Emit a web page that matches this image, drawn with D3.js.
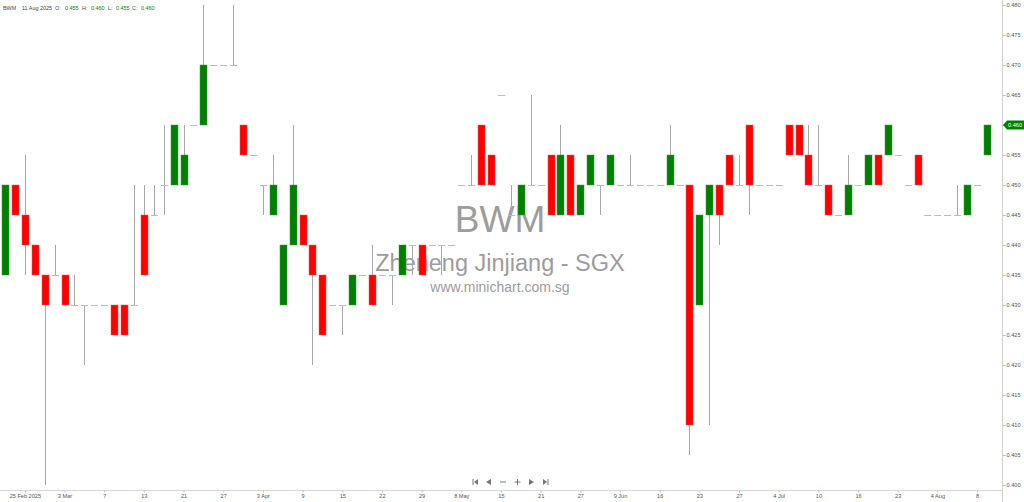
<!DOCTYPE html>
<html>
<head>
<meta charset="utf-8">
<script src="https://cdn.jsdelivr.net/npm/d3@7"></script>
<style>
  html, body { margin: 0; padding: 0; background: #fff; }
  svg { display: block; font-family: "Liberation Sans", Arial, sans-serif; }
</style>
</head>
<body>
<div class="chart"></div>
<script>
'use strict';

/* Daily OHLC, BWM (Zheneng Jinjiang), 21 Feb - 11 Aug 2025 */
var opens  = [0.435,0.450,0.445,0.440,0.435,0.435,0.435,0.430,0.430,0.430,
              0.430,0.430,0.430,0.430,0.445,0.445,0.450,0.450,0.450,0.460,
              0.460,0.470,0.470,0.470,0.460,0.455,0.450,0.445,0.430,0.440,
              0.445,0.440,0.435,0.430,0.430,0.430,0.435,0.435,0.435,0.435,
              0.435,0.440,0.440,0.440,0.440,0.440,0.450,0.450,0.460,0.455,
              0.465,0.445,0.445,0.450,0.450,0.455,0.445,0.455,0.445,0.450,
              0.450,0.450,0.450,0.450,0.450,0.450,0.450,0.450,0.450,0.450,
              0.430,0.445,0.450,0.455,0.450,0.460,0.450,0.450,0.450,0.460,
              0.460,0.455,0.450,0.450,0.445,0.445,0.450,0.450,0.455,0.455,
              0.455,0.450,0.455,0.445,0.445,0.445,0.445,0.445,0.450,0.455];
var highs  = [0.450,0.450,0.455,0.440,0.435,0.440,0.435,0.435,0.430,0.430,
              0.430,0.430,0.430,0.450,0.450,0.450,0.460,0.460,0.460,0.460,
              0.480,0.470,0.470,0.480,0.460,0.455,0.450,0.455,0.440,0.460,
              0.445,0.440,0.435,0.430,0.430,0.435,0.435,0.440,0.435,0.435,
              0.440,0.440,0.440,0.440,0.440,0.440,0.450,0.455,0.460,0.455,
              0.465,0.450,0.450,0.465,0.450,0.455,0.460,0.455,0.450,0.455,
              0.450,0.455,0.450,0.455,0.450,0.450,0.450,0.460,0.450,0.450,
              0.445,0.450,0.450,0.455,0.455,0.460,0.450,0.450,0.450,0.460,
              0.460,0.460,0.460,0.450,0.445,0.455,0.450,0.455,0.455,0.460,
              0.455,0.450,0.455,0.445,0.445,0.445,0.450,0.450,0.450,0.460];
var lows   = [0.435,0.445,0.435,0.435,0.400,0.435,0.430,0.430,0.420,0.430,
              0.430,0.425,0.425,0.430,0.435,0.445,0.445,0.450,0.450,0.460,
              0.460,0.470,0.470,0.470,0.455,0.455,0.445,0.445,0.430,0.440,
              0.440,0.420,0.425,0.430,0.425,0.430,0.435,0.430,0.435,0.430,
              0.435,0.435,0.435,0.440,0.435,0.440,0.450,0.450,0.450,0.450,
              0.465,0.445,0.445,0.450,0.450,0.445,0.445,0.445,0.445,0.450,
              0.445,0.450,0.450,0.450,0.450,0.450,0.450,0.450,0.450,0.405,
              0.430,0.410,0.440,0.450,0.450,0.445,0.450,0.450,0.450,0.455,
              0.455,0.450,0.450,0.445,0.445,0.445,0.450,0.450,0.450,0.455,
              0.455,0.450,0.450,0.445,0.445,0.445,0.445,0.445,0.450,0.455];
var closes = [0.450,0.445,0.440,0.435,0.430,0.435,0.430,0.430,0.430,0.430,
              0.430,0.425,0.425,0.430,0.435,0.445,0.450,0.460,0.455,0.460,
              0.470,0.470,0.470,0.470,0.455,0.455,0.450,0.450,0.440,0.450,
              0.440,0.435,0.425,0.430,0.430,0.435,0.435,0.430,0.435,0.435,
              0.440,0.440,0.435,0.440,0.440,0.440,0.450,0.450,0.450,0.450,
              0.465,0.445,0.450,0.450,0.450,0.445,0.455,0.445,0.450,0.455,
              0.450,0.455,0.450,0.450,0.450,0.450,0.450,0.455,0.450,0.410,
              0.445,0.450,0.445,0.450,0.450,0.450,0.450,0.450,0.450,0.455,
              0.455,0.450,0.450,0.445,0.445,0.450,0.450,0.455,0.450,0.460,
              0.455,0.450,0.450,0.445,0.445,0.445,0.445,0.450,0.450,0.460];

// one date label every 4 bars, first one on bar 2
var tickLabels = ['25 Feb 2025','3 Mar','7','13','21','27','3 Apr','9','15','22',
                  '29','8 May','15','21','27','9 Jun','16','23','27','4 Jul',
                  '10','16','23','4 Aug','8'];
var priceTicks = [0.400,0.405,0.410,0.415,0.420,0.425,0.430,0.435,0.440,
                  0.445,0.450,0.455,0.460,0.465,0.470,0.475,0.480];

var width  = 1024,
    height = 502;
var green = '#008000',
    red   = '#ff0000';
var axisFont = '5.6px';

var bars = opens.map(function(o, i) {
  return { i: i, o: o, h: highs[i], l: lows[i], c: closes[i] };
});

var x = d3.scaleLinear().domain([0, bars.length - 1]).range([5, 987]);
var y = d3.scaleLinear().domain([0.400, 0.480]).range([485, 5]);
var bodyW = 7;

var svg = d3.select('.chart')
  .append('svg')
  .attr('width', width)
  .attr('height', height);

// Watermark (under the candles)
var wm = svg.append('g')
  .attr('fill', '#9c9c9c')
  .attr('text-anchor', 'middle');
wm.append('text').attr('x', 500).attr('y', 232)
  .style('font-size', '37px').text('BWM');
wm.append('text').attr('x', 500).attr('y', 271)
  .style('font-size', '23.5px').text('Zheneng Jinjiang - SGX');
wm.append('text').attr('x', 500).attr('y', 292)
  .style('font-size', '14px').text('www.minichart.com.sg');

// Candles
var candle = svg.append('g').selectAll('g')
  .data(bars).enter()
  .append('g')
    .attr('transform', function(d) {
      return 'translate(' + Math.round(x(d.i)) + ',0)';
    });

candle.filter(function(d) { return d.h > d.l; })
  .append('line')
    .attr('x1', 0.5).attr('x2', 0.5)
    .attr('y1', function(d) { return y(d.h); })
    .attr('y2', function(d) { return y(d.l); })
    .style('stroke', '#a8a8a8')
    .style('stroke-width', 1);

candle.filter(function(d) { return d.o !== d.c; })
  .append('rect')
    .attr('x', -3)
    .attr('width', bodyW)
    .attr('y', function(d) { return y(Math.max(d.o, d.c)); })
    .attr('height', function(d) { return Math.abs(y(d.o) - y(d.c)); })
    .style('fill', function(d) { return d.c > d.o ? green : red; })
    .style('stroke', function(d) { return d.c > d.o ? '#3a9a3a' : '#ff5050'; })
    .style('stroke-width', 0.5);

candle.filter(function(d) { return d.o === d.c; })
  .append('line')
    .attr('x1', -3).attr('x2', 4)
    .attr('y1', function(d) { return Math.round(y(d.c)) + 0.5; })
    .attr('y2', function(d) { return Math.round(y(d.c)) + 0.5; })
    .style('stroke', '#9fd09f')
    .style('stroke-width', 1);

// Right price axis
var yAxis = svg.append('g')
  .attr('transform', 'translate(1002.5,0)')
  .call(d3.axisRight(y).tickValues(priceTicks).tickFormat(d3.format('.3f')).tickSize(3));
yAxis.select('.domain').attr('d', 'M0,0V' + height).style('stroke', '#d0d0d0');
yAxis.selectAll('.tick line').style('stroke', '#c0c0c0');
yAxis.selectAll('.tick text')
  .attr('x', 4)
  .style('font-size', axisFont)
  .style('fill', '#555')
  .style('font-family', '"Liberation Sans", Arial, sans-serif');

// Bottom date axis
var tickIdx = tickLabels.map(function(t, k) { return 2 + 4 * k; });
var xAxis = svg.append('g')
  .attr('transform', 'translate(0,490.5)')
  .call(d3.axisBottom(x).tickValues(tickIdx)
    .tickFormat(function(d) { return tickLabels[(d - 2) / 4]; })
    .tickSize(2));
xAxis.select('.domain').attr('d', 'M0,0H1002').style('stroke', '#d8d8d8');
xAxis.selectAll('.tick line').style('stroke', '#c0c0c0');
xAxis.selectAll('.tick text')
  .attr('y', 4)
  .style('font-size', axisFont)
  .style('fill', '#555')
  .style('font-family', '"Liberation Sans", Arial, sans-serif');

// Last price tag
var last = bars[bars.length - 1];
var ty = y(last.c);
svg.append('path')
  .attr('d', 'M1003,' + ty + 'L1007,' + (ty - 4.5) + 'H1024V' + (ty + 4.5) + 'H1007Z')
  .style('fill', green);
svg.append('text')
  .attr('x', 1008).attr('y', ty + 2)
  .style('font-size', axisFont)
  .style('fill', '#fff')
  .text(d3.format('.3f')(last.c));

// Legend (top left)
var legend = svg.append('text')
  .attr('x', 3).attr('y', 10)
  .style('font-size', '5.4px')
  .style('fill', '#444');
var parts = [
  ['BWM', '#444', 3], ['11 Aug 2025', '#444', 22],
  ['O:', '#444', 55], [d3.format('.3f')(last.o), green, 65],
  ['H:', '#444', 82], [d3.format('.3f')(last.h), green, 91],
  ['L:', '#444', 108], [d3.format('.3f')(last.l), green, 116],
  ['C:', '#444', 132], [d3.format('.3f')(last.c), green, 141]
];
legend.selectAll('tspan')
  .data(parts).enter()
  .append('tspan')
    .attr('x', function(d) { return d[2]; })
    .style('fill', function(d) { return d[1]; })
    .text(function(d) { return d[0]; });

// Navigation buttons
var nav = svg.append('g').style('fill', '#777');
// |<
nav.append('rect').attr('x', 472.5).attr('y', 479).attr('width', 1).attr('height', 6);
nav.append('path').attr('d', 'M474,482L478,479V485Z');
// <
nav.append('path').attr('d', 'M486,482L491,479V485Z');
// -
nav.append('rect').attr('x', 500).attr('y', 481.5).attr('width', 6).attr('height', 1);
// +
nav.append('rect').attr('x', 514.5).attr('y', 481.5).attr('width', 6).attr('height', 1);
nav.append('rect').attr('x', 517).attr('y', 479).attr('width', 1).attr('height', 6);
// >
nav.append('path').attr('d', 'M534,482L529,479V485Z');
// >|
nav.append('path').attr('d', 'M547,482L543,479V485Z');
nav.append('rect').attr('x', 547.5).attr('y', 479).attr('width', 1).attr('height', 6);
</script>
</body>
</html>
